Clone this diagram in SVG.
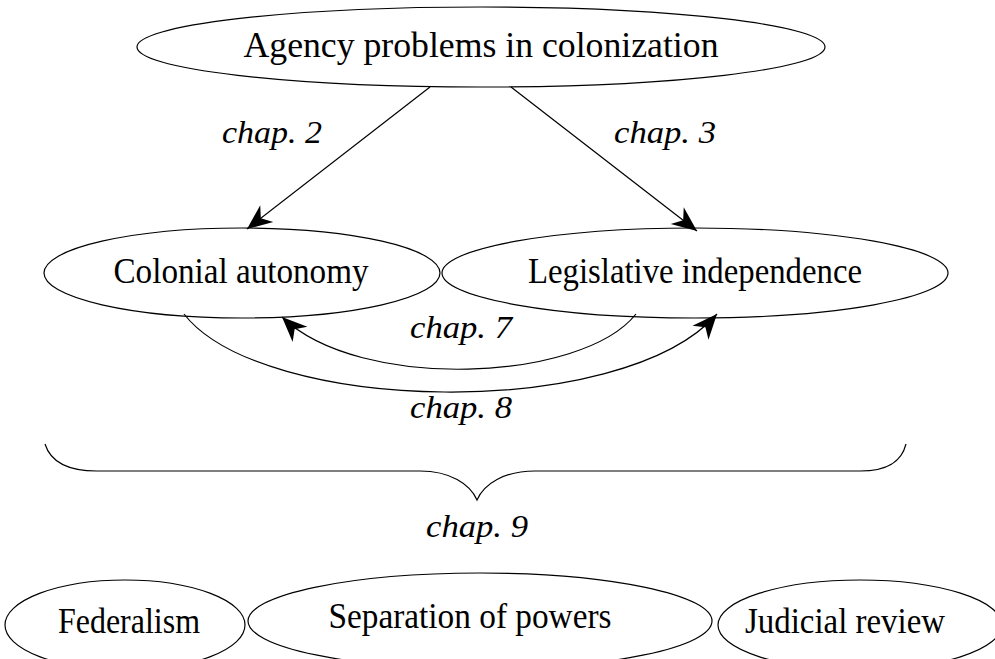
<svg xmlns="http://www.w3.org/2000/svg" width="995" height="659" viewBox="0 0 995 659">
<style>
.node{fill:none;stroke:#000;stroke-width:1.2}
.t{font-family:"Liberation Serif","DejaVu Serif",serif;font-size:35px;fill:#000;text-anchor:middle}
.c{font-family:"Liberation Serif","DejaVu Serif",serif;font-size:32px;font-style:italic;fill:#000;text-anchor:middle}
.e{fill:none;stroke:#000;stroke-width:1.2}
</style>
<defs>
<marker id="ah" markerUnits="userSpaceOnUse" markerWidth="30" markerHeight="30" viewBox="-22 -11 24 22" refX="0" refY="0" orient="auto">
<path d="M0,0 L-20,-8.5 L-14,0 L-20,8.5 Z" fill="#000"/>
</marker>
</defs>
<rect width="995" height="659" fill="#fff"/>
<g id="n-agency">
<ellipse class="node" cx="481" cy="47" rx="344" ry="40"/>
<text class="t" x="481" y="57" textLength="475" lengthAdjust="spacingAndGlyphs">Agency problems in colonization</text>
</g>
<g id="n-colonial">
<ellipse class="node" cx="242" cy="273" rx="198" ry="45"/>
<text class="t" x="241" y="283" textLength="255" lengthAdjust="spacingAndGlyphs">Colonial autonomy</text>
</g>
<g id="n-legislative">
<ellipse class="node" cx="695" cy="273" rx="253" ry="45"/>
<text class="t" x="695" y="283" textLength="334" lengthAdjust="spacingAndGlyphs">Legislative independence</text>
</g>
<g id="n-federalism">
<ellipse class="node" cx="125" cy="625" rx="120" ry="45"/>
<text class="t" x="129" y="633" textLength="142" lengthAdjust="spacingAndGlyphs">Federalism</text>
</g>
<g id="n-separation">
<ellipse class="node" cx="480" cy="621" rx="232" ry="48"/>
<text class="t" x="470" y="628" textLength="283" lengthAdjust="spacingAndGlyphs">Separation of powers</text>
</g>
<g id="n-judicial">
<ellipse class="node" cx="860" cy="625" rx="142" ry="45"/>
<text class="t" x="845" y="633" textLength="200" lengthAdjust="spacingAndGlyphs">Judicial review</text>
</g>
<g id="connectors">
<line class="e" x1="430" y1="87" x2="247" y2="229" marker-end="url(#ah)"/>
<line class="e" x1="511" y1="87" x2="697" y2="231" marker-end="url(#ah)"/>
<path class="e" d="M636,314 C582,382 360,392 282,317" marker-end="url(#ah)"/>
<path class="e" d="M184,314 C262,414 622,422 717,314" marker-end="url(#ah)"/>
<path class="e" d="M45,444 C50,460 65,471 97,471 L420,471 C450,471 470,484 477,500 C484,484 504,471 535,471 L860,471 C890,471 902,460 906,444"/>
<text class="c" x="272" y="143" textLength="100" lengthAdjust="spacingAndGlyphs">chap. 2</text>
<text class="c" x="665" y="143" textLength="102" lengthAdjust="spacingAndGlyphs">chap. 3</text>
<text class="c" x="461" y="338" textLength="102" lengthAdjust="spacingAndGlyphs">chap. 7</text>
<text class="c" x="461" y="418" textLength="102" lengthAdjust="spacingAndGlyphs">chap. 8</text>
<text class="c" x="477" y="537" textLength="102" lengthAdjust="spacingAndGlyphs">chap. 9</text>
</g>
</svg>
